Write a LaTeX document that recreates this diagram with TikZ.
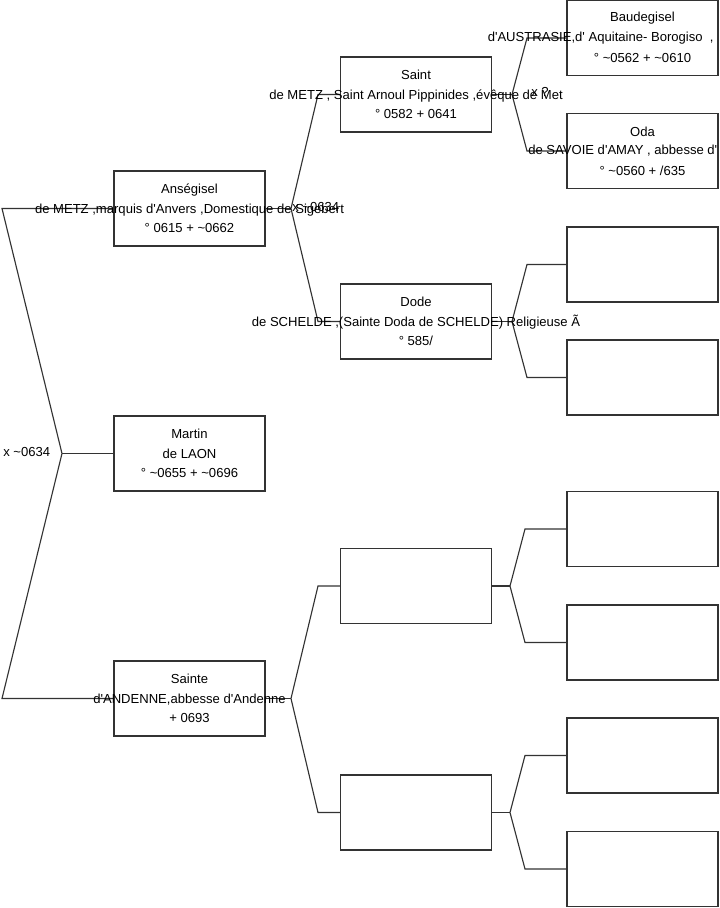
\documentclass[tikz,border=0pt]{standalone}
\usepackage{fontspec}
\newfontfamily\af{Liberation Sans}
\usetikzlibrary{calc}
\newcommand{\tl}{\textasciitilde{}}
\begin{document}
\begin{tikzpicture}[x=0.75pt,y=-0.75pt,
  box/.style={draw=black!80,line width=0.85pt,minimum width=113.25pt,minimum height=56.25pt,inner sep=0pt,outer sep=0pt,fill=none},
  txt/.style={font=\af\fontsize{9.8}{14.6}\selectfont,align=center,inner sep=0pt},
  lbl/.style={font=\af\fontsize{9.8}{14.6}\selectfont,inner sep=0pt},
  conn/.style={draw=black!80,line width=0.85pt}]
\useasboundingbox (0,0) rectangle (719,908);
% column 1
\node[box] (ans) at (189.5,208.5) {};
\node[box] (mar) at (189.5,453.5) {};
\node[box] (sai) at (189.5,698.5) {};
% column 2
\node[box] (arn) at (416,94.5) {};
\node[box] (dod) at (416,321.5) {};
\node[box] (b21) at (416,586) {};
\node[box] (b22) at (416,812.5) {};
% column 3
\node[box] (bau) at (642.5,38) {};
\node[box] (oda) at (642.5,151) {};
\node[box] (c3) at (642.5,264.5) {};
\node[box] (c4) at (642.5,377.5) {};
\node[box] (c5) at (642.5,529) {};
\node[box] (c6) at (642.5,642.5) {};
\node[box] (c7) at (642.5,755.5) {};
\node[box] (c8) at (642.5,869) {};
% connectors root
\coordinate (r0) at (62,453.5);
\coordinate (r1) at (2,208.5);
\coordinate (r2) at (2,698.5);
\draw[conn] (ans.west) -- (r1) -- (r0) -- (r2) -- (sai.west);
\draw[conn] (r0) -- (mar.west);
% Ansegisel fork
\coordinate (a0) at (291,208.5);
\coordinate (a1) at (318,94.5);
\coordinate (a2) at (318,321.5);
\draw[conn] (arn.west) -- (a1) -- (a0) -- (a2) -- (dod.west);
\draw[conn] (ans.east) -- (a0);
% Sainte fork
\coordinate (s0) at (291,698.5);
\coordinate (s1) at (318,586);
\coordinate (s2) at (318,812.5);
\draw[conn] (b21.west) -- (s1) -- (s0) -- (s2) -- (b22.west);
\draw[conn] (sai.east) -- (s0);
% column 2 forks
\coordinate (n0) at (512,94.5);
\coordinate (n1) at (527,38);
\coordinate (n2) at (527,151);
\draw[conn] (bau.west) -- (n1) -- (n0) -- (n2) -- (oda.west);
\draw[conn] (arn.east) -- (n0);
\coordinate (d0) at (512,321.5);
\coordinate (d1) at (527,264.5);
\coordinate (d2) at (527,377.5);
\draw[conn] (c3.west) -- (d1) -- (d0) -- (d2) -- (c4.west);
\draw[conn] (dod.east) -- (d0);
\coordinate (e0) at (510,586);
\coordinate (e1) at (525,529);
\coordinate (e2) at (525,642.5);
\draw[conn] (c5.west) -- (e1) -- (e0) -- (e2) -- (c6.west);
\draw[conn] (b21.east) -- (e0);
\coordinate (g0) at (510,812.5);
\coordinate (g1) at (525,755.5);
\coordinate (g2) at (525,869);
\draw[conn] (c7.west) -- (g1) -- (g0) -- (g2) -- (c8.west);
\draw[conn] (b22.east) -- (g0);
% texts
\node[txt] at (ans.center) {Anségisel\\de METZ ,marquis d'Anvers ,Domestique de Sigebert\\° 0615 + \tl0662};
\node[txt] at (mar.center) {Martin\\de LAON\\° \tl0655 + \tl0696};
\node[txt] at (sai.center) {Sainte\\d'ANDENNE,abbesse d'Andenne\\+ 0693};
\node[txt] at (arn.center) {Saint\\de METZ , Saint Arnoul Pippinides ,évêque de Met\\° 0582 + 0641};
\node[txt] at (dod.center) {Dode\\de SCHELDE ,(Sainte Doda de SCHELDE) Religieuse Ã\\° 585/};
\node[txt] at ($(bau.center)+(0,-19.5)$) {Baudegisel};
\node[txt,anchor=west] at ($(bau.center)+(-155,0)$) {d'AUSTRASIE,d' Aquitaine- Borogiso \ ,};
\node[txt] at ($(bau.center)+(0,19.5)$) {° \tl0562 + \tl0610};
\node[txt] at ($(oda.center)+(0,-19.5)$) {Oda};
\node[txt,anchor=west] at ($(oda.center)+(-114.5,0)$) {de SAVOIE d'AMAY , abbesse d'};
\node[txt] at ($(oda.center)+(0,19.5)$) {° \tl0560 + /635};
% marriage labels
\node[lbl,anchor=west] at (3,452) {x \tl0634};
\node[lbl,anchor=west] at (292,207) {x \tl0634};
\node[lbl,anchor=west] at (531,92) {x ?};
\end{tikzpicture}
\end{document}
